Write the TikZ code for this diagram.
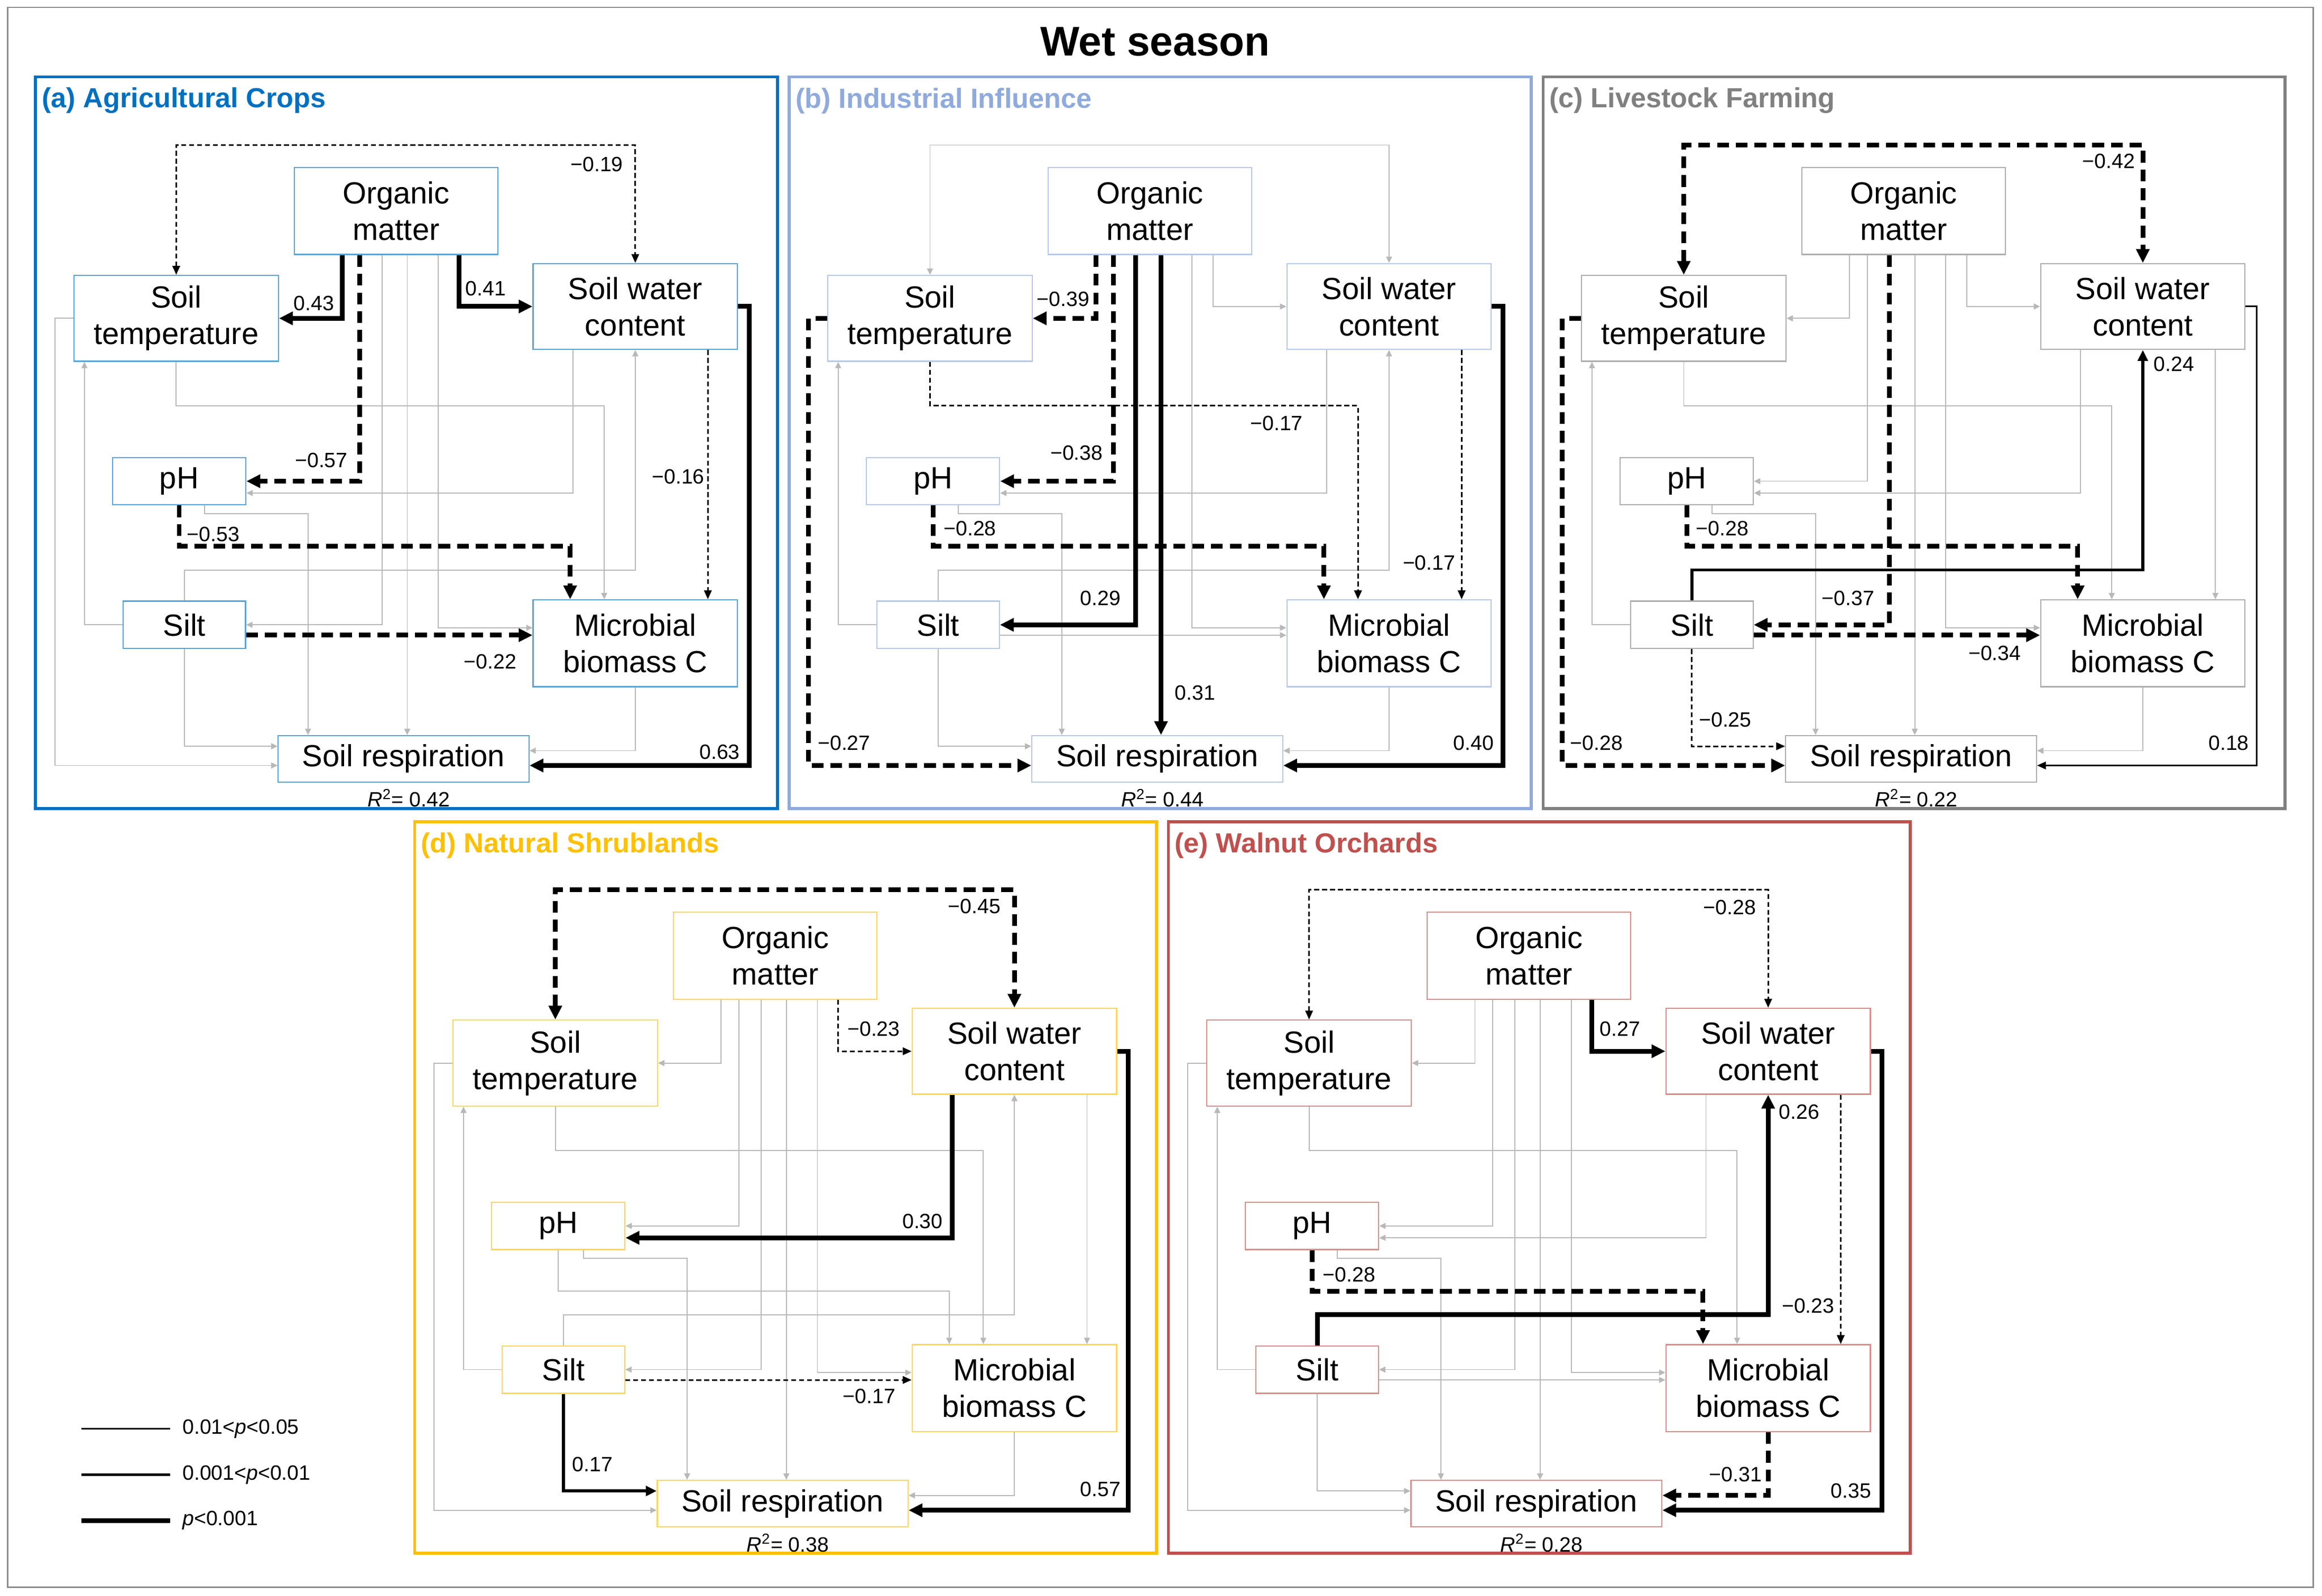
\documentclass[tikz,border=0pt]{standalone}
\usepackage{fontspec}
\setmainfont{Liberation Sans}
\usetikzlibrary{arrows.meta}
\definecolor{cropblue}{HTML}{0070C0}
\definecolor{indblue}{HTML}{8FAADC}
\definecolor{livegrey}{HTML}{808080}
\definecolor{shrubgold}{HTML}{FFC000}
\definecolor{walnutred}{HTML}{C0504D}
\newcommand\boxfont{\fontsize{15.5}{18.5}\selectfont}
\newcommand\labfont{\fontsize{10.5}{12}\selectfont}
% routes of the paths, the same in every panel
\newcommand\Romst[1]{\draw[#1] (om.south -| 207,0) |- (st.east);}
\newcommand\Romph[1]{\draw[#1] (om.south -| 219,0) |- (ph.east);}
\newcommand\Romsilt[1]{\draw[#1] (om.south -| 234,0) |- (silt.east);}
\newcommand\Romsr[1]{\draw[#1] (om.south -| 251,0) -- (sr.north -| 251,0);}
\newcommand\Rommbc[1]{\draw[#1] (om.south -| 272,0) |- (mbc.west |- 0,372);}
\newcommand\Romswc[1]{\draw[#1] (om.south -| 286,0) |- (swc.west);}
\newcommand\Rstswc[1]{\draw[#1,<->] (st.north) |- (swc.north |- 0,46) -- (swc.north);}
\newcommand\Rstmbc[1]{\draw[#1] (st.south) |- (384,222) -- (mbc.north -| 384,0);}
\newcommand\Rstsr[1]{\draw[#1] (st.west) -| (13,465) -- (sr.west |- 0,465);}
\newcommand\Rswcph[1]{\draw[#1] (swc.south -| 363,0) |- (ph.east |- 0,281);}
\newcommand\Rswcmbc[1]{\draw[#1] (swc.south -| 454,0) -- (mbc.north -| 454,0);}
\newcommand\Rswcsr[1]{\draw[#1] (swc.east) -| (482,465) -- (sr.east |- 0,465);}
\newcommand\Rsiltst[1]{\draw[#1] (silt.west) -| (st.south -| 33,0);}
\newcommand\Rsiltswc[1]{\draw[#1] (silt.north) |- (swc.south |- 0,333) -- (swc.south);}
\newcommand\Rsiltmbc[1]{\draw[#1] (silt.east |- 0,377) -- (mbc.west |- 0,377);}
\newcommand\Rsiltsr[1]{\draw[#1] (silt.south) |- (sr.west |- 0,452);}
\newcommand\Rphmbc[1]{\draw[#1] (ph.south) |- (361,317) -- (mbc.north -| 361,0);}
\newcommand\Rphsr[1]{\draw[#1] (ph.south -| 114,0) |- (184,295) -- (sr.north -| 184,0);}
\newcommand\Rmbcsr[1]{\draw[#1] (mbc.south) |- (sr.east |- 0,455);}
% frame, title and boxes of one panel
\newcommand\panelboxes[3]{%
    \draw[#1, line width=1.5pt] (0,0) rectangle (501,494);
    \node[ttl, text=#1, anchor=west] (ttl) at (4,16) {#2};
    \node[box=#1, minimum width=103pt, minimum height=44pt] (om) at (243.5,90.5) {Organic\\matter};
    \node[box=#1, minimum width=103.5pt, minimum height=43.5pt] (st) at (95,163) {Soil\\temperature};
    \node[box=#1, minimum width=103.5pt, minimum height=43.5pt] (swc) at (405,155) {Soil water\\content};
    \node[box=#1, minimum width=67.5pt, minimum height=24pt] (ph) at (97,273) {pH};
    \node[box=#1, minimum width=62pt, minimum height=24pt] (silt) at (100.5,370) {Silt};
    \node[box=#1, minimum width=103.5pt, minimum height=44pt] (mbc) at (405,382.5) {Microbial\\biomass C};
    \node[box=#1, minimum width=127pt, minimum height=23.5pt] (sr) at (248.5,460.5) {Soil respiration};
    \node[lab] (r2) at (252,487) {\textit{R}\textsuperscript{2}= #3};
}
\begin{document}
\begin{tikzpicture}
        [
            x=0.75pt, y=-0.75pt,
            box/.style={rectangle, draw=#1!65, line width=0.6pt, align=center, inner sep=0pt, font=\boxfont},
            lab/.style={font=\labfont, inner sep=0pt},
            ttl/.style={font=\fontsize{14}{16}\selectfont\bfseries, inner sep=0pt},
            gry/.style={draw=black!28, line width=0.5pt, ->, >={Triangle[length=3.2pt,width=3pt]}},
            p1/.style={line width=0.8pt, ->, >={Triangle[length=4.5pt,width=3.8pt]}},
            p2/.style={line width=1.5pt, ->, >={Triangle[length=5.5pt,width=5pt]}},
            p3/.style={line width=2.4pt, ->, >={Triangle[length=7pt,width=6.5pt]}},
            n1/.style={p1, dash pattern=on 2.5pt off 1.5pt},
            n3/.style={p3, dash pattern=on 6pt off 3.5pt}
        ]
        \useasboundingbox (0,0) rectangle (1568,1077.6);
        \draw[black!45, line width=0.8pt] (5,5) rectangle (1562,1072);
        \node[font=\fontsize{21}{24}\selectfont\bfseries] (title) at (780,28) {Wet season};
        % (a)
        \begin{scope}[shift={(24,52)}, name prefix=a-]
            \panelboxes{cropblue}{(a) Agricultural Crops}{0.42}
            \foreach \r in {omsilt,omsr,ommbc,stmbc,stsr,swcph,siltst,siltswc,siltsr,phsr,mbcsr}
                {\csname R\r\endcsname{gry}}
            \Romst{p3} \Romswc{p3} \Romph{n3} \Rstswc{n1} \Rswcmbc{n1}
            \Rphmbc{n3} \Rsiltmbc{n3} \Rswcsr{p3}
            \node[lab] at (188,153) {0.43};
            \node[lab] at (304,143) {0.41};
            \node[lab] at (193,259) {−0.57};
            \node[lab] at (379,59) {−0.19};
            \node[lab] at (434,270) {−0.16};
            \node[lab] at (120,309) {−0.53};
            \node[lab] at (307,395) {−0.22};
            \node[lab] at (462,456) {0.63};
        \end{scope}
        % (b)
        \begin{scope}[shift={(533,52)}, name prefix=b-]
            \panelboxes{indblue}{(b) Industrial Influence}{0.44}
            \foreach \r in {ommbc,omswc,stswc,swcph,siltst,siltswc,siltmbc,siltsr,phsr,mbcsr}
                {\csname R\r\endcsname{gry}}
            \Romst{n3} \Romph{n3} \Romsilt{p3} \Romsr{p3} \Rstmbc{n1}
            \Rswcmbc{n1} \Rphmbc{n3} \Rstsr{n3} \Rswcsr{p3}
            \node[lab] at (185,150) {−0.39};
            \node[lab] at (194,254) {−0.38};
            \node[lab] at (210,352) {0.29};
            \node[lab] at (274,416) {0.31};
            \node[lab] at (329,234) {−0.17};
            \node[lab] at (432,328) {−0.17};
            \node[lab] at (122,305) {−0.28};
            \node[lab] at (37,450) {−0.27};
            \node[lab] at (462,450) {0.40};
        \end{scope}
        % (c)
        \begin{scope}[shift={(1042,52)}, name prefix=c-]
            \panelboxes{livegrey}{(c) Livestock Farming}{0.22}
            \foreach \r in {omst,omph,omsr,ommbc,omswc,stmbc,swcph,swcmbc,siltst,phsr,mbcsr}
                {\csname R\r\endcsname{gry}}
            \Rstswc{n3} \Romsilt{n3} \Rsiltswc{p2} \Rphmbc{n3}
            \Rsiltmbc{n3} \Rsiltsr{n1} \Rstsr{n3} \Rswcsr{p1}
            \node[lab] at (382,57) {−0.42};
            \node[lab] at (206,352) {−0.37};
            \node[lab] at (426,194) {0.24};
            \node[lab] at (121,305) {−0.28};
            \node[lab] at (305,389) {−0.34};
            \node[lab] at (123,434) {−0.25};
            \node[lab] at (36,450) {−0.28};
            \node[lab] at (463,450) {0.18};
        \end{scope}
        % (d)
        \begin{scope}[shift={(280,555)}, name prefix=d-]
            \panelboxes{shrubgold}{(d) Natural Shrublands}{0.38}
            \foreach \r in {omst,omph,omsilt,omsr,ommbc,stmbc,stsr,swcmbc,siltst,siltswc,phmbc,phsr,mbcsr}
                {\csname R\r\endcsname{gry}}
            \Rstswc{n3} \Romswc{n1} \Rswcph{p3} \Rsiltmbc{n1} \Rsiltsr{p2} \Rswcsr{p3}
            \node[lab] at (378,57) {−0.45};
            \node[lab] at (310,140) {−0.23};
            \node[lab] at (343,270) {0.30};
            \node[lab] at (307,388) {−0.17};
            \node[lab] at (120,434) {0.17};
            \node[lab] at (463,451) {0.57};
        \end{scope}
        % (e)
        \begin{scope}[shift={(789,555)}, name prefix=e-]
            \panelboxes{walnutred}{(e) Walnut Orchards}{0.28}
            \foreach \r in {omst,omph,omsilt,omsr,ommbc,stmbc,stsr,swcph,siltst,siltmbc,siltsr,phsr}
                {\csname R\r\endcsname{gry}}
            \Rstswc{n1} \Romswc{p3} \Rsiltswc{p3} \Rswcmbc{n1}
            \Rphmbc{n3} \Rmbcsr{n3} \Rswcsr{p3}
            \node[lab] at (379,58) {−0.28};
            \node[lab] at (305,140) {0.27};
            \node[lab] at (426,196) {0.26};
            \node[lab] at (432,327) {−0.23};
            \node[lab] at (122,306) {−0.28};
            \node[lab] at (383,441) {−0.31};
            \node[lab] at (461,452) {0.35};
        \end{scope}
        % legend
        \node[lab, anchor=west] (leg1) at (123,965) {0.01<\textit{p}<0.05};
        \node[lab, anchor=west] (leg2) at (123,996) {0.001<\textit{p}<0.01};
        \node[lab, anchor=west] (leg3) at (123,1027) {\textit{p}<0.001};
        \draw[line width=0.8pt] (55,965) -- (115,965);
        \draw[line width=1.5pt] (55,996) -- (115,996);
        \draw[line width=2.4pt] (55,1027) -- (115,1027);
\end{tikzpicture}
\end{document}
